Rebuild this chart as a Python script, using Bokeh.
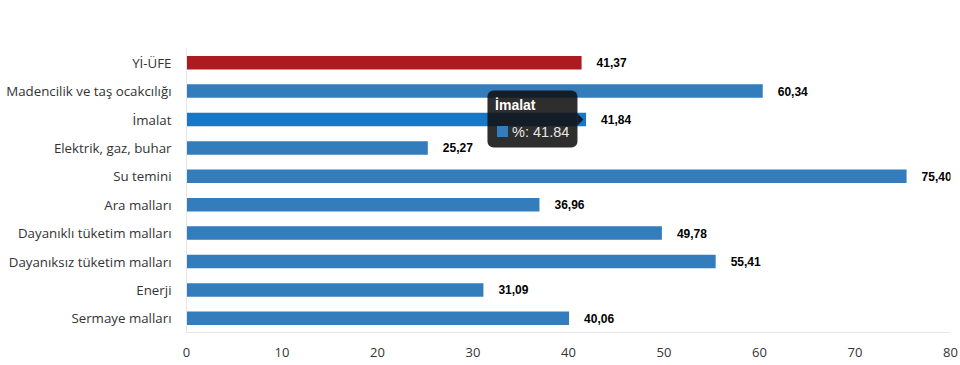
from bokeh.plotting import figure
from bokeh.models import FactorRange, Range1d, ColumnDataSource, FixedTicker
from bokeh.core.properties import value
from bokeh.embed import file_html
from bokeh.resources import INLINE

categories = ["Yİ-ÜFE", "Madencilik ve taş ocakcılığı", "İmalat", "Elektrik, gaz, buhar",
              "Su temini", "Ara malları", "Dayanıklı tüketim malları",
              "Dayanıksız tüketim malları", "Enerji", "Sermaye malları"]
values = [41.37, 60.34, 41.84, 25.27, 75.40, 36.96, 49.78, 55.41, 31.09, 40.06]
labels = ["41,37", "60,34", "41,84", "25,27", "75,40", "36,96", "49,78", "55,41", "31,09", "40,06"]
x_ticks = [0, 10, 20, 30, 40, 50, 60, 70, 80]
hovered = "İmalat"

BLUE = "#347dbd"
RED = "#ad1a20"
HOVER_BLUE = "#1a77c3"

colors = []
for c in categories:
    if c == "Yİ-ÜFE":
        colors.append(RED)
    elif c == hovered:
        colors.append(HOVER_BLUE)
    else:
        colors.append(BLUE)

src = ColumnDataSource(dict(cat=categories, val=values, lab=labels, color=colors))

FRAME_W = 764
FRAME_H = 284
p = figure(
    y_range=FactorRange(factors=categories[::-1], range_padding=0),
    x_range=Range1d(0, 80),
    frame_width=FRAME_W, frame_height=FRAME_H,
    min_border_left=186, min_border_right=10, min_border_top=48, min_border_bottom=25,
    output_backend="svg", toolbar_location=None,
)
p.outline_line_color = None
p.xgrid.grid_line_color = None
p.ygrid.grid_line_color = None

p.hbar(y="cat", right="val", left=0, height=0.475, color="color", source=src, line_color=None)

p.text(x="val", y="cat", text="lab", source=src, x_offset=15,
       text_align="left", text_baseline="middle",
       text_font=value("Liberation Sans"), text_font_style="bold",
       text_font_size="12px", text_color="#000000")

# axes
p.xaxis.ticker = FixedTicker(ticks=x_ticks)
p.xaxis.axis_line_color = "#e6e6e6"
p.xaxis.major_tick_line_color = None
p.xaxis.minor_tick_line_color = None
p.xaxis.major_label_standoff = 9
p.xaxis.major_label_text_font = "Open Sans"
p.xaxis.major_label_text_font_size = "13px"
p.xaxis.major_label_text_color = "#333333"

p.yaxis.axis_line_color = "#e6e6e6"
p.yaxis.major_tick_line_color = None
p.yaxis.minor_tick_line_color = None
p.yaxis.major_label_standoff = 9
p.yaxis.major_label_text_font = "Open Sans"
p.yaxis.major_label_text_font_size = "13.3px"
p.yaxis.major_label_text_color = "#333333"

# tooltip for the hovered bar
px_x = FRAME_W / 80.0
px_y = FRAME_H / len(categories)
hi = categories.index(hovered)
hv = values[hi]
yc = len(categories) - hi - 0.5
p.quad(left=[hv - 98.6 / px_x], right=[hv - 8.6 / px_x],
       top=[yc + 29 / px_y], bottom=[yc - 28 / px_y],
       fill_color="#111111", fill_alpha=0.88, line_color=None,
       border_radius=6)
p.patch(x=[hv - 8.7 / px_x, hv - 2.6 / px_x, hv - 8.7 / px_x],
        y=[yc + 6 / px_y, yc, yc - 6 / px_y],
        fill_color="#111111", fill_alpha=0.88, line_color=None)
tt = ColumnDataSource(dict(x=[hv], y=[hovered], t=[hovered], v=["%: " + f"{hv:.2f}"]))
p.text(x="x", y="y", text="t", source=tt, x_offset=-91, y_offset=-15,
       text_align="left", text_baseline="middle",
       text_font=value("Liberation Sans"), text_font_style="bold",
       text_font_size="14px", text_color="#ffffff")
p.scatter(x=[hv - 83.6 / px_x], y=[yc - 12 / px_y], marker="square", size=11,
          fill_color=BLUE, line_color=None)
p.text(x="x", y="y", text="v", source=tt, x_offset=-74, y_offset=12,
       text_align="left", text_baseline="middle",
       text_font=value("Liberation Sans"),
       text_font_size="14.5px", text_color="#e6e6e6")

open("out.html", "w").write(file_html(p, INLINE))
